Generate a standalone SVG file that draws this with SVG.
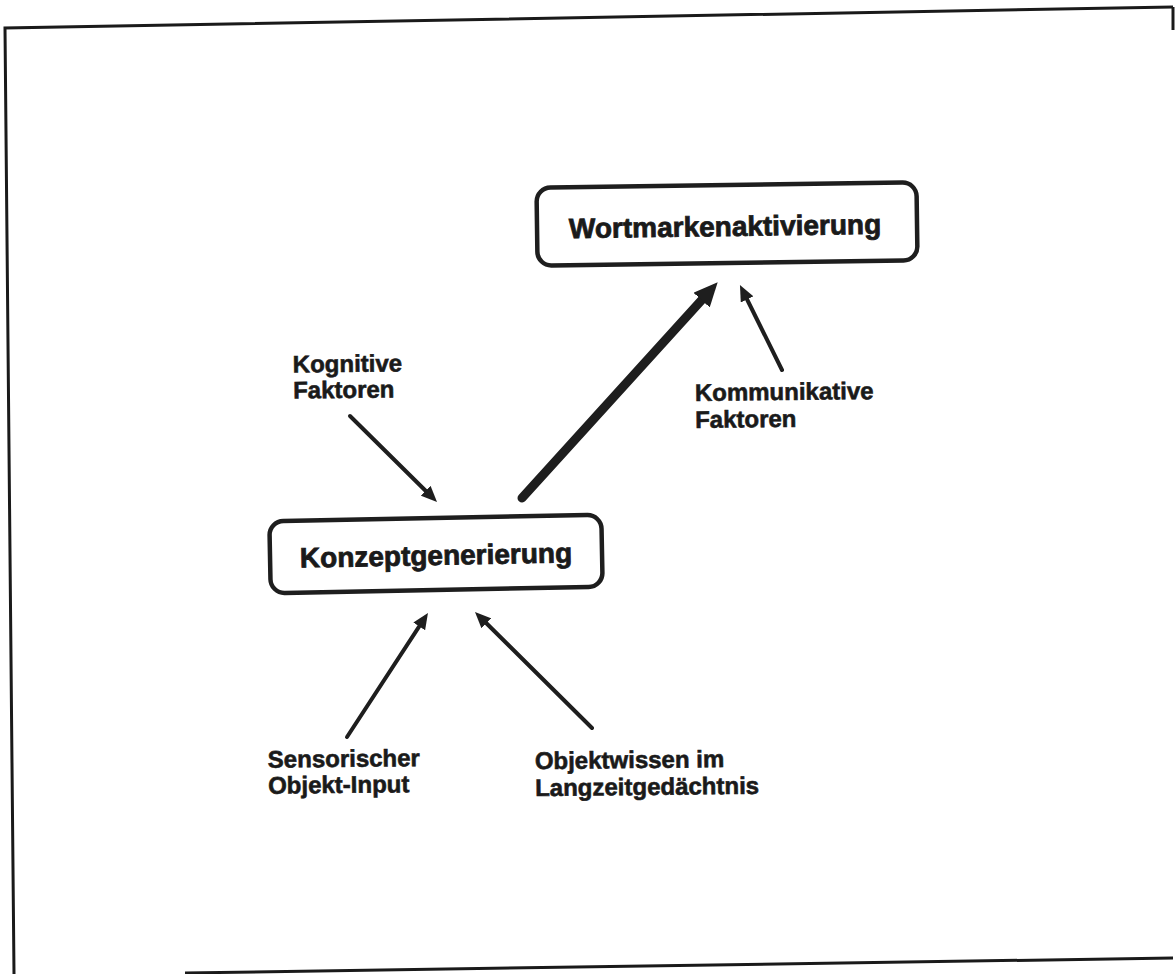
<svg xmlns="http://www.w3.org/2000/svg" width="1175" height="974" viewBox="0 0 1175 974">
  <style>
    .frame { fill: none; stroke: #1a1a1a; stroke-width: 3; }
    .box { fill: #ffffff; stroke: #1e1e1e; stroke-width: 4.5; }
    .title { font-family: "Liberation Sans", Arial, sans-serif; font-weight: bold; font-size: 28px; fill: #1a1a1a; stroke: #1a1a1a; stroke-width: 0.8; text-anchor: middle; }
    .label { font-family: "Liberation Sans", Arial, sans-serif; font-weight: bold; font-size: 24px; fill: #1a1a1a; stroke: #1a1a1a; stroke-width: 0.6; }
    .arrow { fill: none; stroke: #1e1e1e; stroke-width: 4; stroke-linecap: round; marker-end: url(#headS); }
    .arrow-big { fill: none; stroke: #1e1e1e; stroke-width: 9; stroke-linecap: round; marker-end: url(#headL); }
  </style>
  <defs>
    <marker id="headS" markerUnits="userSpaceOnUse" markerWidth="16" markerHeight="14" refX="6" refY="7" orient="auto">
      <path d="M0,0 L16,7 L0,14 z" fill="#1e1e1e"/>
    </marker>
    <marker id="headL" markerUnits="userSpaceOnUse" markerWidth="24" markerHeight="22" refX="9" refY="11" orient="auto">
      <path d="M0,0 L24,11 L0,22 z" fill="#1e1e1e"/>
    </marker>
  </defs>
  <rect x="0" y="0" width="1175" height="974" fill="#ffffff"/>

  <g id="frame">
    <polyline class="frame" points="1173,7 5,28 14,974"/>
    <line class="frame" x1="185" y1="973" x2="1173" y2="958"/>
    <line class="frame" x1="1173" y1="7" x2="1173" y2="30" stroke-width="2"/>
  </g>

  <g id="connectors">
    <line class="arrow" x1="350" y1="416" x2="429.9" y2="495"/>
    <line class="arrow-big" x1="522" y1="498" x2="707.6" y2="293.4"/>
    <line class="arrow" x1="782" y1="370" x2="744.4" y2="294"/>
    <line class="arrow" x1="347" y1="737" x2="422.5" y2="621.4"/>
    <line class="arrow" x1="592" y1="728" x2="482.1" y2="619"/>
  </g>

  <g id="node-wortmarkenaktivierung" transform="rotate(-0.8 727 224)">
    <rect class="box" x="537" y="185" width="380" height="78" rx="14" ry="14"/>
    <text class="title" x="725" y="236">Wortmarkenaktivierung</text>
  </g>

  <g id="node-konzeptgenerierung" transform="rotate(-1.1 436 554)">
    <rect class="box" x="270" y="518" width="332" height="72" rx="14" ry="14"/>
    <text class="title" x="436" y="565">Konzeptgenerierung</text>
  </g>

  <g id="node-kognitive-faktoren" transform="rotate(-0.6 340 385)">
    <text class="label" x="293" y="372">Kognitive</text>
    <text class="label" x="293" y="398">Faktoren</text>
  </g>

  <g id="node-kommunikative-faktoren" transform="rotate(-0.6 780 410)">
    <text class="label" x="695" y="400">Kommunikative</text>
    <text class="label" x="695" y="427">Faktoren</text>
  </g>

  <g id="node-sensorischer-objekt-input" transform="rotate(-0.6 330 780)">
    <text class="label" x="268" y="767">Sensorischer</text>
    <text class="label" x="268" y="793">Objekt-Input</text>
  </g>

  <g id="node-objektwissen" transform="rotate(-0.6 640 780)">
    <text class="label" x="535" y="768">Objektwissen im</text>
    <text class="label" x="535" y="795">Langzeitgedächtnis</text>
  </g>
</svg>
